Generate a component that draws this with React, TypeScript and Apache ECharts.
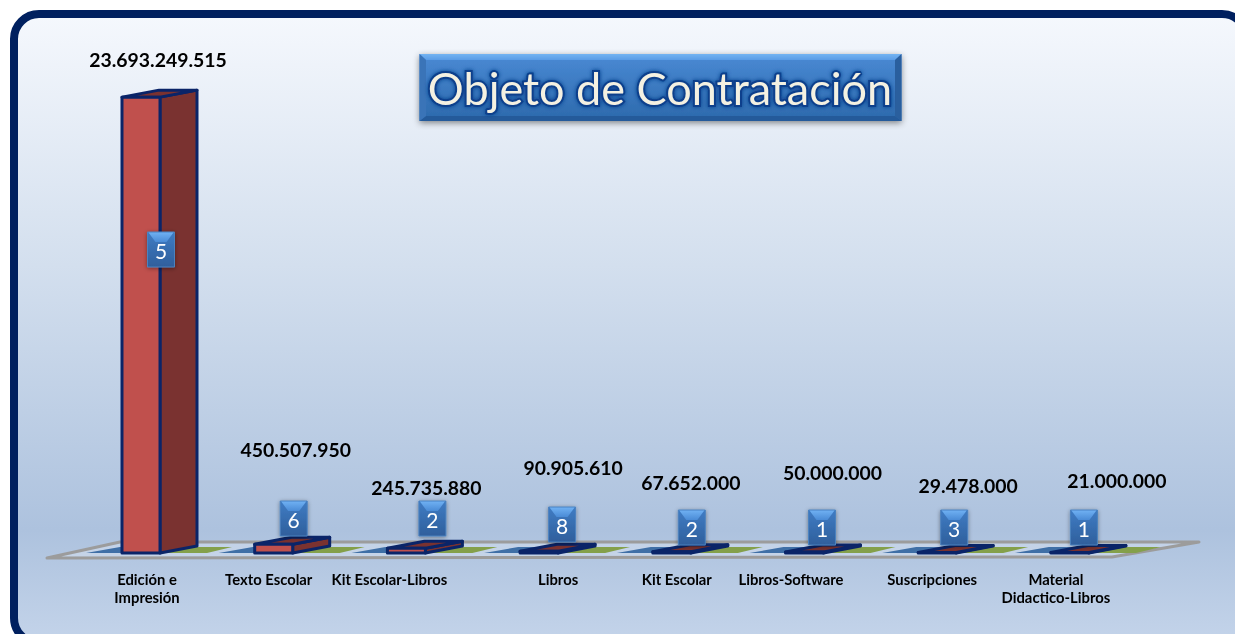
import React, { useEffect, useRef } from "react";
import * as echarts from "echarts";

const categories = ["Edición e\nImpresión", "Texto Escolar", "Kit Escolar-Libros", "Libros", "Kit Escolar", "Libros-Software", "Suscripciones", "Material\nDidactico-Libros"];
const amounts = [23693249515, 450507950, 245735880, 90905610, 67652000, 50000000, 29478000, 21000000];
const counts = [5, 6, 2, 8, 2, 1, 3, 1];
const titleText = "Objeto de Contratación";

// hand-placed annotation offsets of the original (px from each bar's base point)
const amountDx = [17, 22, 20, 34, 19, 28, 31, 47];
const amountDy = [-494, -104, -66, -86, -71, -81, -68, -73];
const badgeDx = [20, 20, 26, 23, 20, 17.5, 17, 14];
const badgeTop = [-321, -52, -52, -46, -43, -43, -43, -43];
const nameDx = [6, -5, -17, 19, 5, -13.5, -5, -14];

const NAVY = "#0a2468";
const FONT = "Lato, Carlito, 'Open Sans', sans-serif";
const W = 38, DX = 37, DY = 7;

const fmt = (n: number) => String(n).replace(/\B(?=(\d{3})+$)/g, ".");
const vGrad = (stops: [number, string][]) =>
  new echarts.graphic.LinearGradient(0, 0, 0, 1, stops.map(([offset, color]) => ({ offset, color })));

function floorItem(_p: any, api: any) {
  const [cx, by] = api.coord([api.value(0), 0]);
  const x = cx - W / 2;
  return {
    type: "group",
    children: [
      { type: "polygon", shape: { points: [[x - 36, by], [x, by], [x + 37, by - 6], [x - 2, by - 6]] }, style: { fill: "#3f6fa6" } },
      { type: "polygon", shape: { points: [[x + 38, by], [x + 85, by], [x + 110, by - 6], [x + 75, by - 6]] }, style: { fill: "#84a04a" } },
    ],
  };
}

function barItem(_p: any, api: any) {
  const [cx, by] = api.coord([api.value(0), 0]);
  const [, ty] = api.coord([api.value(0), api.value(1)]);
  const x = cx - W / 2;
  const edge = { stroke: NAVY, lineWidth: 3, lineJoin: "round" };
  return {
    type: "group",
    children: [
      { type: "polygon", shape: { points: [[x + W, by], [x + W + DX, by - DY], [x + W + DX, ty - DY], [x + W, ty]] }, style: { fill: "#7a3230", ...edge } },
      { type: "polygon", shape: { points: [[x, ty], [x + W, ty], [x + W + DX, ty - DY], [x + DX, ty - DY]] }, style: { fill: "#7a3230", ...edge } },
      { type: "polygon", shape: { points: [[x, by], [x + W, by], [x + W, ty], [x, ty]] }, style: { fill: "#c0504d", ...edge } },
    ],
  };
}

function badgeItem(p: any, api: any) {
  const i = p.dataIndex;
  const [cx, by] = api.coord([api.value(0), 0]);
  const w = 27, h = 35;
  const x = cx + badgeDx[i] - w / 2;
  const y = by + badgeTop[i];
  return {
    type: "group",
    children: [
      { type: "rect", shape: { x, y, width: w, height: h }, style: { fill: vGrad([[0, "#3f7cc4"], [1, "#2f5f9c"]]), stroke: "#4c82bf", lineWidth: 1, shadowBlur: 4, shadowColor: "rgba(0,0,0,0.4)", shadowOffsetY: 1 } },
      { type: "polygon", shape: { points: [[x + 1, y + 0.5], [x + w - 1, y + 0.5], [x + w - 8, y + 10], [x + 8, y + 10]] }, style: { fill: vGrad([[0, "#6fb0f2"], [1, "#4a8bd6"]]) } },
      { type: "text", x: x + w / 2, y: y + h / 2 + 1, style: { text: String(api.value(1)), font: `21px ${FONT}`, fill: "#ffffff", align: "center", verticalAlign: "middle" } },
    ],
  };
}

function amountItem(p: any, api: any) {
  const i = p.dataIndex;
  const [cx, by] = api.coord([api.value(0), 0]);
  return {
    type: "text", x: cx + amountDx[i], y: by + amountDy[i],
    style: { text: fmt(api.value(1)), font: `bold 19.4px ${FONT}`, fill: "#000000", align: "center", verticalAlign: "middle" },
  };
}

function nameItem(p: any, api: any) {
  const i = p.dataIndex;
  const [cx, by] = api.coord([api.value(0), 0]);
  return {
    type: "text", x: cx + nameDx[i], y: by + 17,
    style: { text: categories[i], font: `bold 14.8px ${FONT}`, fill: "#000000", align: "center", verticalAlign: "top", lineHeight: 18 },
  };
}

export default function App() {
  const ref = useRef<HTMLDivElement>(null);
  useEffect(() => {
    const chart = echarts.init(ref.current!, undefined, { renderer: "svg" });
    const pairs = (a: number[]) => a.map((v, i) => [i, v]);
    const custom = (renderItem: any, data: number[][], z: number) => ({
      type: "custom", renderItem, data, z, encode: { x: 0, y: 1 }, silent: true, clip: false,
    });
    chart.setOption({
      animation: false,
      title: {
        text: titleText, left: 655, top: 83, textAlign: "center", textVerticalAlign: "middle", z: 20,
        textStyle: { fontFamily: FONT, fontSize: 45, fontWeight: "normal", color: "#f4f1e2", textBorderColor: "#0b3f8c", textBorderWidth: 4, textShadowColor: "#0b3f8c", textShadowBlur: 4 },
      },
      grid: { left: 74.65, width: 1061.6, top: 72, bottom: 81 },
      xAxis: { type: "category", data: categories, show: false },
      yAxis: { type: "value", min: 0, max: 25000000000, show: false },
      graphic: [
        {
          type: "rect", z: -10, shape: { x: 14, y: 14, width: 1233, height: 629, r: 25 },
          style: { fill: vGrad([[0, "#f5f8fd"], [0.4, "#d3dfee"], [0.82, "#adc2de"], [1, "#c4d4ea"]]), stroke: "#00205f", lineWidth: 8 },
        },
        {
          type: "polygon", z: -5, shape: { points: [[47, 558], [120, 542], [1199, 542], [1112, 557]] },
          style: { fill: "rgba(232,238,246,0.35)", stroke: "#9c9c9c", lineWidth: 3, lineJoin: "round" },
        },
        {
          type: "rect", z: 10, shape: { x: 419.5, y: 54, width: 482, height: 67 },
          style: { fill: vGrad([[0, "#4a8ad4"], [1, "#2c69ac"]]), shadowBlur: 6, shadowColor: "rgba(0,0,0,0.45)", shadowOffsetY: 2 },
        },
        { type: "polygon", z: 11, shape: { points: [[419.5, 54], [901.5, 54], [895, 60], [426, 60]] }, style: { fill: vGrad([[0, "#74b4f2"], [1, "#5a9ce6"]]) } },
        { type: "polygon", z: 11, shape: { points: [[419.5, 121], [901.5, 121], [895, 116], [426, 116]] }, style: { fill: "#245a9a" } },
        { type: "polygon", z: 11, shape: { points: [[419.5, 54], [426, 60], [426, 116], [419.5, 121]] }, style: { fill: "#3a74b8" } },
        { type: "polygon", z: 11, shape: { points: [[901.5, 54], [895, 60], [895, 116], [901.5, 121]] }, style: { fill: "#2a5f9e" } },
      ],
      series: [
        custom(floorItem, pairs(amounts.map(() => 0)), 2),
        custom(barItem, pairs(amounts), 3),
        custom(badgeItem, pairs(counts), 5),
        custom(amountItem, pairs(amounts), 6),
        custom(nameItem, pairs(amounts.map(() => 0)), 6),
      ],
    });
    return () => chart.dispose();
  }, []);
  return <div ref={ref} style={{ position: "fixed", left: 0, top: 0, width: 1235, height: 634 }} />;
}
